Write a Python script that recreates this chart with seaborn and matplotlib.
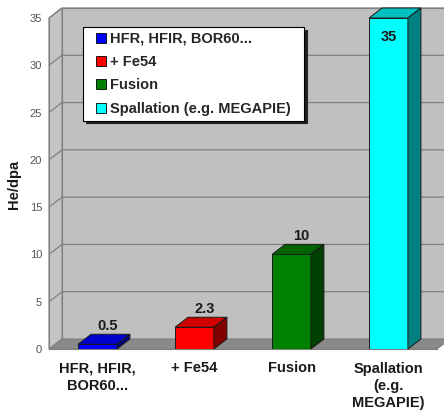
import matplotlib
matplotlib.use("Agg")
import matplotlib.pyplot as plt
from matplotlib.patches import Polygon
from matplotlib.lines import Line2D
import seaborn as sns
import pandas as pd

# Data
categories = ["HFR, HFIR,\nBOR60...", "+ Fe54", "Fusion", "Spallation\n(e.g.\nMEGAPIE)"]
legend_labels = ["HFR, HFIR, BOR60...", "+ Fe54", "Fusion", "Spallation (e.g. MEGAPIE)"]
he_per_dpa = [0.5, 2.3, 10, 35]
value_text = ["0.5", "2.3", "10", "35"]
y_ticks = [0, 5, 10, 15, 20, 25, 30, 35]

# Face colours for the pseudo-3D bars
front_colors = ["#0000ff", "#ff0000", "#008000", "#00ffff"]
top_colors = ["#0000cc", "#d00000", "#006400", "#00c0c0"]
side_colors = ["#000080", "#800000", "#004000", "#008080"]

sns.set_style("white")
plt.rcParams["font.family"] = ["Liberation Sans", "DejaVu Sans"]

W, H = 444, 412
fig = plt.figure(figsize=(W / 100, H / 100), dpi=100)
fig.patch.set_facecolor("white")

# Front plane of the plot box, in pixels
x0, x1, y_bot, y_top = 49, 437, 349, 18
ax = fig.add_axes([x0 / W, (H - y_bot) / H, (x1 - x0) / W, (y_bot - y_top) / H])
ax.set_xlim(-0.5, 3.5)
ax.set_ylim(0, 35)
ax.patch.set_visible(False)

# Depth of the 3D box, converted into data units
px_per_x = (x1 - x0) / 4.0
px_per_y = (y_bot - y_top) / 35.0
dx = 13 / px_per_x
dy = 10 / px_per_y

wall = "#c0c0c0"
edge = "#808080"
xl, xr = -0.5, 3.5
ytop = 35

# Back wall
ax.add_patch(Polygon([(xl + dx, dy), (xr + dx + 0.5, dy), (xr + dx + 0.5, ytop + dy), (xl + dx, ytop + dy)],
                     closed=True, facecolor=wall, edgecolor=edge, lw=0.8, zorder=0, clip_on=False))
# Left side wall
ax.add_patch(Polygon([(xl, 0), (xl + dx, dy), (xl + dx, ytop + dy), (xl, ytop)],
                     closed=True, facecolor="#c4c4c4", edgecolor=edge, lw=0.8, zorder=0.5, clip_on=False))
# Gridlines on the walls
for v in y_ticks[1:]:
    ax.plot([xl, xl + dx, xr + dx + 0.5], [v, v + dy, v + dy], color=edge, lw=0.9,
            zorder=1, clip_on=False, solid_capstyle="butt")
# Floor
ax.add_patch(Polygon([(xl, 0), (xr, 0), (xr + dx, dy), (xl + dx, dy)],
                     closed=True, facecolor="#8a8a8a", edgecolor=edge, lw=0.8, zorder=1.5, clip_on=False))

# Front faces of the bars
df = pd.DataFrame({"cat": categories, "val": he_per_dpa})
sns.barplot(data=df, x="cat", y="val", hue="cat", palette=front_colors, width=0.4,
            saturation=1, edgecolor="#1a1a1a", linewidth=0.7, legend=False, ax=ax, zorder=3)

# Top and side faces
for patch, tc, sc in zip(ax.patches[-4:], top_colors, side_colors):
    bx, bw, bh = patch.get_x(), patch.get_width(), patch.get_height()
    ax.add_patch(Polygon([(bx, bh), (bx + bw, bh), (bx + bw + dx, bh + dy), (bx + dx, bh + dy)],
                         closed=True, facecolor=tc, edgecolor="#1a1a1a", lw=0.7, zorder=3, clip_on=False))
    ax.add_patch(Polygon([(bx + bw, 0), (bx + bw + dx, dy), (bx + bw + dx, bh + dy), (bx + bw, bh)],
                         closed=True, facecolor=sc, edgecolor="#1a1a1a", lw=0.7, zorder=3, clip_on=False))

# Value labels
for i, (v, t) in enumerate(zip(he_per_dpa, value_text)):
    if v >= 30:
        ax.text(i, v - 2.0, t, ha="center", va="center", fontsize=10.5, fontweight="bold",
                color="#1a1a1a", zorder=4)
    else:
        ax.text(i + 0.1, v + dy + 0.45, t, ha="center", va="baseline", fontsize=10.5,
                fontweight="bold", color="#1a1a1a", zorder=4)

# Axes styling
for s in ["top", "right"]:
    ax.spines[s].set_visible(False)
for s in ["left", "bottom"]:
    ax.spines[s].set_color(edge)
    ax.spines[s].set_linewidth(0.8)
    ax.spines[s].set_zorder(2)

ax.set_yticks(y_ticks)
ax.tick_params(axis="y", direction="out", length=4, width=0.8, color=edge,
               labelcolor="#555555", labelsize=8, pad=1)
ax.set_xticks(range(4))
ax.set_xticklabels(categories, fontsize=10.5, fontweight="bold", color="#1a1a1a", linespacing=1.3)
ax.tick_params(axis="x", which="major", length=0, pad=9)
ax.set_xticks([-0.5, 0.5, 1.5, 2.5, 3.5], minor=True)
ax.tick_params(axis="x", which="minor", direction="out", length=4, width=0.8, color=edge)
ax.set_xlabel("")
ax.set_ylabel("He/dpa", fontsize=10.5, fontweight="bold", color="#1a1a1a")
ax.yaxis.set_label_coords((21 - x0) / (x1 - x0), (y_bot - 184) / (y_bot - y_top))

# Legend with square swatches
handles = [Line2D([], [], ls="none", marker="s", markersize=7.2, markerfacecolor=c,
                  markeredgecolor="black", markeredgewidth=0.6) for c in front_colors]
leg = ax.legend(handles, legend_labels, loc="upper left",
                bbox_to_anchor=(83 / W, 1 - 114 / H, 221 / W, 87 / H), bbox_transform=fig.transFigure,
                mode="expand", borderaxespad=0, frameon=True, fancybox=False,
                shadow={"color": "#202020", "alpha": 1.0},
                prop={"weight": "bold", "size": 10.5}, handlelength=1.81,
                handletextpad=-0.29, labelspacing=0.64, borderpad=0.33)
leg.get_frame().set_edgecolor("black")
leg.get_frame().set_linewidth(0.8)
leg.get_frame().set_facecolor("white")
leg.get_frame().set_alpha(1)
leg.set_zorder(5)

fig.savefig("out.png", dpi=100)
